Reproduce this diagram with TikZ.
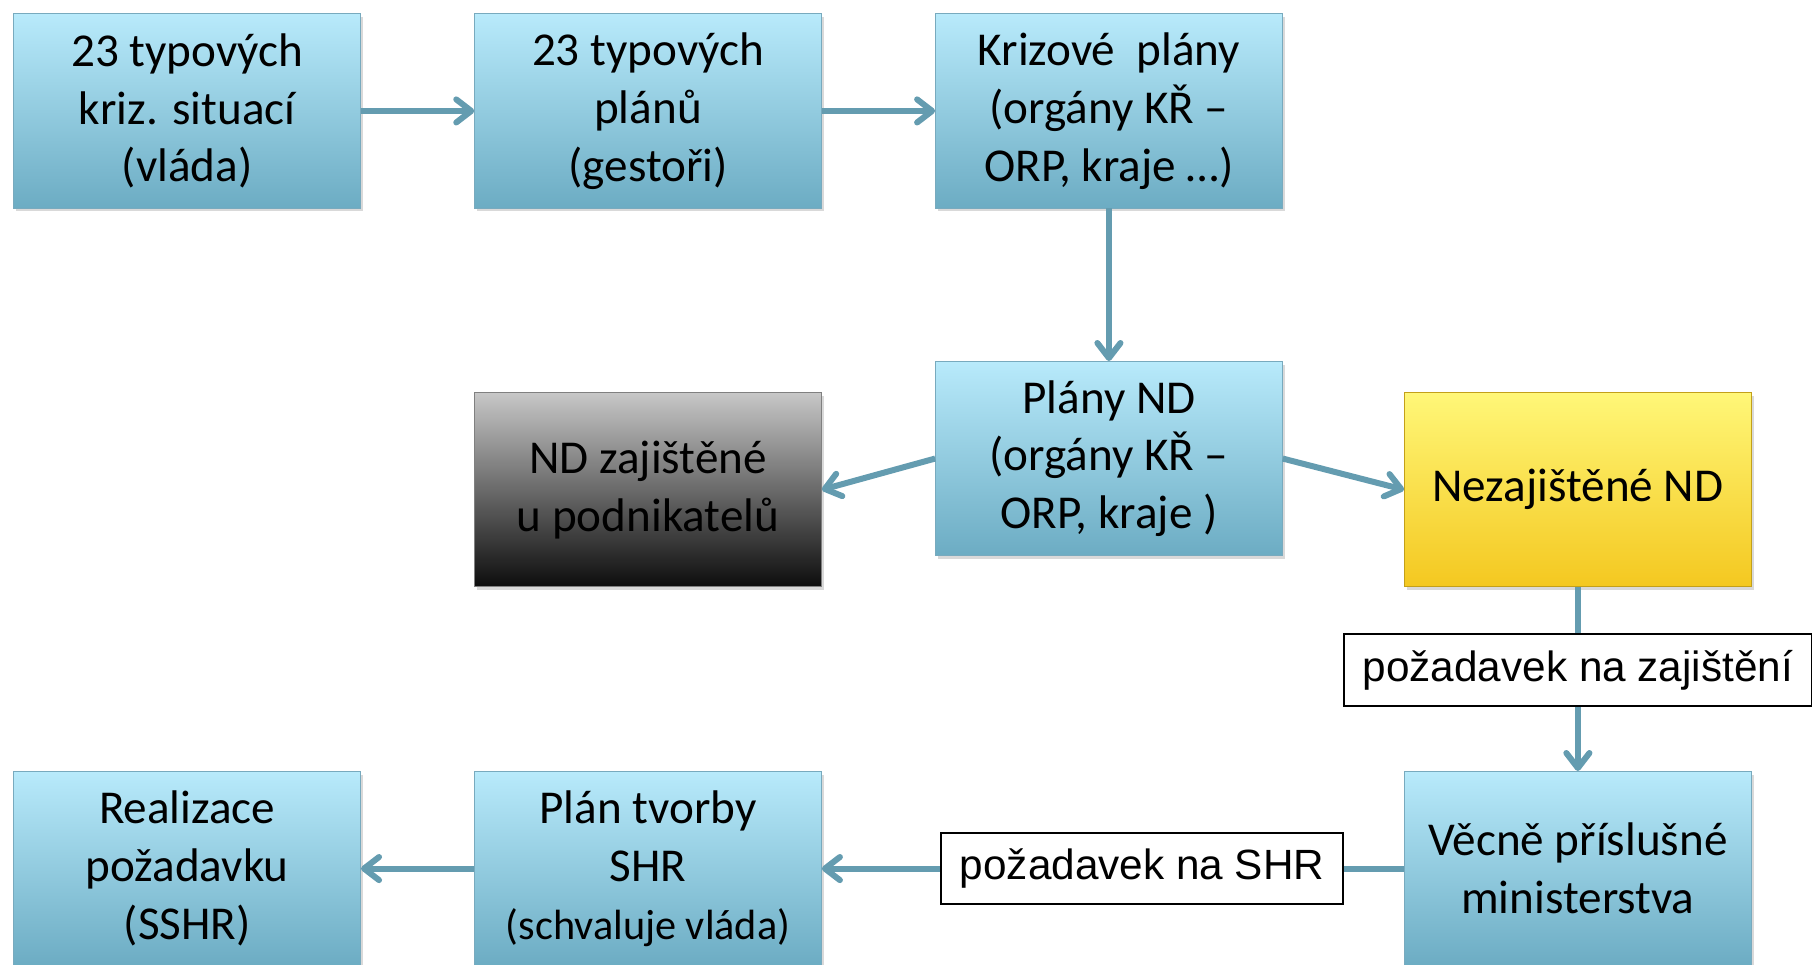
\documentclass[tikz,border=0pt]{standalone}
\usepackage{fontspec}
\setmainfont{Carlito}
\newfontfamily\tagfont{Liberation Sans}
\usetikzlibrary{arrows.meta,positioning,shadows}
\definecolor{planlight}{RGB}{184,234,251}
\definecolor{plandark}{RGB}{108,172,195}
\definecolor{planedge}{RGB}{120,170,190}
\definecolor{warnlight}{RGB}{255,247,120}
\definecolor{warndark}{RGB}{244,200,32}
\definecolor{arrowblue}{RGB}{100,156,176}
\tikzset{
  plan/.style={rectangle, draw=planedge, line width=0.4pt, top color=planlight, bottom color=plandark,
    minimum width=150pt, minimum height=84pt, inner sep=0pt, align=center,
    font=\fontsize{20.4}{25}\selectfont, drop shadow={opacity=0.3, shadow xshift=1pt, shadow yshift=-1.5pt}},
  darkplan/.style={plan, draw=black!50, top color=black!22, middle color=black!45, bottom color=black!95},
  warnplan/.style={plan, draw=warndark!80!black, top color=warnlight, bottom color=warndark},
  tag/.style={rectangle, draw=black, line width=0.8pt, fill=white, minimum height=31pt, inner xsep=8pt,
    font=\tagfont\fontsize{18.3}{22}\selectfont},
  myarrow/.style={-{Straight Barb[length=6.5pt,width=10pt,round]}, line width=2.6pt, draw=arrowblue},
}
\begin{document}
\begin{tikzpicture}[node distance=66pt and 49pt]
\useasboundingbox (0,0) rectangle (784pt,-417.5pt);

\node[plan] (kriz) at (81pt,-48pt) {23 typových\\kriz. situací\\(vláda)};
\node[plan, right=of kriz] (typ) {23 typových\\plánů\\(gestoři)};
\node[plan, right=of typ] (krizpl) {Krizové~ plány\\(orgány KŘ –\\ORP, kraje …)};
\node[plan, below=of krizpl] (nd) {Plány ND\\(orgány KŘ –\\ORP, kraje )};
\node[darkplan, left=of nd, yshift=-13.5pt] (zaj) {ND zajištěné\\u podnikatelů};
\node[warnplan, right=52.5pt of nd, yshift=-13.5pt] (nezaj) {Nezajištěné ND};
\node[plan, below=79.5pt of nezaj] (min) {Věcně příslušné\\ministerstva};
\node[plan, below=79.5pt of zaj] (shr) {Plán tvorby\\SHR\\{\fontsize{18.3}{22}\selectfont(schvaluje vláda)}};
\node[plan, left=of shr] (real) {Realizace\\požadavku\\(SSHR)};

\draw[myarrow] (kriz) -- (typ);
\draw[myarrow] (typ) -- (krizpl);
\draw[myarrow] (krizpl) -- (nd);
\draw[myarrow] (nd.west) -- (zaj.east);
\draw[myarrow] (nd.east) -- (nezaj.west);
\draw[myarrow] (nezaj) -- node[tag, pos=0.45] (reqzaj) {požadavek na zajištění} (min);
\draw[myarrow] (min) -- node[tag, pos=0.45] (reqshr) {požadavek na SHR} (shr);
\draw[myarrow] (shr) -- (real);
\end{tikzpicture}
\end{document}
